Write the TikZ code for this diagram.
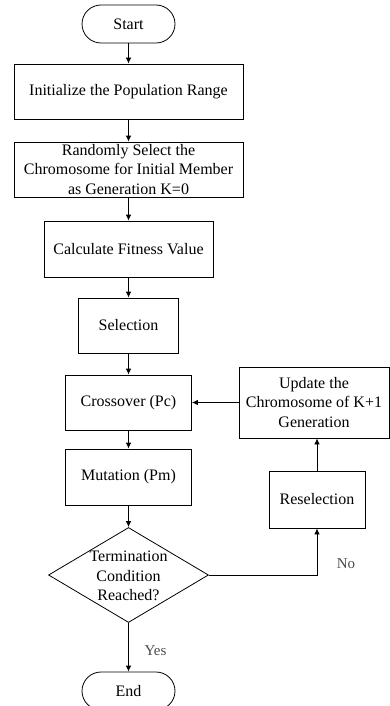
\documentclass[tikz,border=0pt]{standalone}
\usepackage{fontspec}
\setmainfont{Liberation Serif}
\usetikzlibrary{shapes.geometric,arrows.meta}
\begin{document}
\begin{tikzpicture}[x=1pt,y=-1pt,
  every node/.style={font=\fontsize{16}{19.5}\selectfont, align=center, inner sep=0pt},
  box/.style={draw, line width=0.8pt, rectangle},
  term/.style={draw, line width=0.8pt, rectangle, rounded corners=19pt, minimum width=93pt, minimum height=38pt},
  arr/.style={line width=0.8pt, -{Latex[length=6pt,width=5.5pt]}},
  lab/.style={font=\fontsize{15}{18}\selectfont, text=black!70}]
\useasboundingbox (0,0) rectangle (390,706);
\node[term] (start) at (128.5,24) {Start};
\node[box, minimum width=229pt, minimum height=55pt] (init) at (128.5,91.5) {Initialize the Population Range};
\node[box, minimum width=229pt, minimum height=55pt] (rand) at (128.5,169.5) {Randomly Select the\\Chromosome for Initial Member\\as Generation K=0};
\node[box, minimum width=169pt, minimum height=56pt] (calc) at (128.5,249) {Calculate Fitness Value};
\node[box, minimum width=100pt, minimum height=55pt] (sel) at (128.5,325.5) {Selection};
\node[box, minimum width=126pt, minimum height=55pt] (cross) at (128.5,402.5) {Crossover (Pc)};
\node[box, minimum width=126pt, minimum height=56pt] (mut) at (128.5,477) {Mutation (Pm)};
\node[draw, line width=0.8pt, diamond, minimum width=160pt, minimum height=95pt] (cond) at (128.5,575) {};
\node (condtext) at (128.5,576) {Termination\\Condition\\Reached?};
\node[term] (end) at (128.5,691) {End};
\node[box, minimum width=150pt, minimum height=71pt] (upd) at (314,402.5) {Update the\\Chromosome of K+1\\Generation};
\node[box, minimum width=96pt, minimum height=57pt] (resel) at (317,499.5) {Reselection};
\coordinate (turn) at (317,575);
\node[lab] (yes) at (155.5,651) {Yes};
\node[lab] (no) at (346,564) {No};
\draw[arr] (start) -- (init);
\draw[arr] (init) -- (rand);
\draw[arr] (rand) -- (calc);
\draw[arr] (calc) -- (sel);
\draw[arr] (sel) -- (cross);
\draw[arr] (cross) -- (mut);
\draw[arr] (mut) -- (cond);
\draw[arr] (cond) -- (end);
\draw[arr] (cond.east) -- (turn) -- (resel.south);
\draw[arr] (resel.north) -- (resel.north |- upd.south);
\draw[arr] (upd) -- (cross);
\end{tikzpicture}
\end{document}
